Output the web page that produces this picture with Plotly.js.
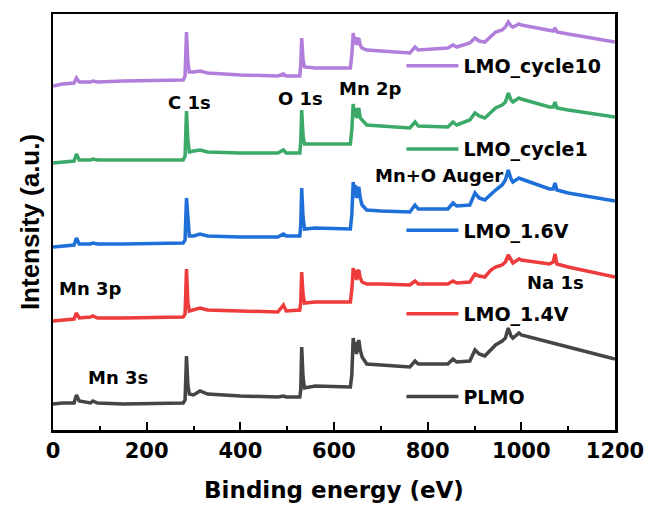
<!DOCTYPE html>
<html>
<head>
<meta charset="utf-8">
<script src="https://cdn.plot.ly/plotly-3.0.1.min.js"></script>
<style>html,body{margin:0;padding:0;background:#fff;}#chart{width:649px;height:508px;}</style>
</head>
<body>
<div id="chart"></div>
<script>
// Binding energy grid (eV)
const energy = [0, 20, 45, 50, 56, 80, 85, 95, 150,
  278, 282, 285, 288, 291, 300, 314, 330,
  400, 480, 492, 498,
  527, 529, 531, 534, 537,
  560, 635, 638,
  641, 643, 645, 648, 650, 653, 656,
  660, 670, 700,
  762, 773, 780,
  843, 854, 862,
  890, 901, 910, 922,
  935, 945, 959, 966,
  972, 978, 982, 995, 1000,
  1060, 1068, 1072, 1076,
  1100, 1200];

// Intensities (a.u., stacked offsets included)
const plmo = [26, 27, 27, 35, 29, 27, 29, 27, 26,
  27, 30, 74, 45, 36, 35, 39, 36,
  34, 33, 34, 33,
  33, 40, 83, 52, 42,
  44, 43, 55,
  92, 80, 88, 76, 85, 90, 80,
  73, 66, 65,
  63, 69, 66,
  66, 71, 68,
  69, 80, 76, 74,
  80, 85, 89, 92,
  102, 94, 92, 97, 95,
  88, 87, 87, 86,
  83, 71];

const lmo14 = [109, 110, 111, 117, 112, 113, 114, 112, 112,
  113, 116, 161, 128, 119, 120, 122, 120,
  119, 118, 125, 119,
  120, 128, 158, 135, 127,
  128, 128, 140,
  162, 152, 160, 150, 158, 160, 152,
  148, 146, 146,
  145, 149, 146,
  146, 149, 147,
  148, 156, 154, 153,
  160, 163, 165, 168,
  175, 169, 167, 171, 170,
  166, 168, 176, 166,
  163, 153];

const lmo16 = [183, 184, 185, 192, 186, 186, 187, 186, 186,
  187, 190, 232, 205, 194, 194, 196, 194,
  193, 193, 196, 194,
  194, 205, 242, 212, 201,
  202, 201, 215,
  248, 235, 245, 232, 240, 243, 232,
  225, 220, 219,
  218, 225, 221,
  221, 227, 224,
  225, 237, 232, 230,
  236, 240, 245, 250,
  260, 251, 248, 252, 251,
  241, 241, 247, 240,
  237, 229];

const cycle1 = [267, 268, 269, 276, 270, 270, 271, 270, 270,
  270, 274, 319, 290, 278, 279, 280, 278,
  277, 277, 280, 277,
  277, 288, 320, 294, 286,
  286, 286, 300,
  326, 315, 322, 312, 318, 322, 312,
  310, 305, 304,
  302, 308, 304,
  303, 308, 305,
  310, 317, 314, 312,
  318, 322, 325, 328,
  337, 330, 328, 332, 331,
  323, 323, 328, 322,
  320, 313];

const cycle10 = [344, 346, 347, 352, 348, 348, 349, 348, 349,
  350, 354, 398, 368, 358, 358, 359, 357,
  355, 354, 356, 354,
  354, 365, 392, 370, 363,
  362, 362, 375,
  397, 388, 393, 385, 390, 392, 385,
  382, 380, 379,
  377, 383, 380,
  382, 385, 383,
  387, 392, 389, 388,
  394, 398, 400, 403,
  408, 404, 403, 406, 405,
  399, 399, 402, 398,
  396, 388];

const seriesNames = ['PLMO', 'LMO_1.4V', 'LMO_1.6V', 'LMO_cycle1', 'LMO_cycle10'];
const seriesColors = ['#454545', '#EE3B3B', '#1F6FD8', '#3BAA68', '#B27EDC'];
const seriesValues = [plmo, lmo14, lmo16, cycle1, cycle10];

// Peak labels
const peakLabels = ['C 1s', 'O 1s', 'Mn 2p', 'Mn+O Auger', 'Na 1s', 'Mn 3p', 'Mn 3s'];
const peakLabelX = [291, 528, 677, 824, 1072, 79, 138];
const peakLabelY = [328, 332, 342, 255, 148, 142, 53];

const xTicks = [0, 200, 400, 600, 800, 1000, 1200];

const legendIds = ['legend', 'legend2', 'legend3', 'legend4', 'legend5'];
const legendY = [0.08, 0.279, 0.48, 0.675, 0.875];

const boldFont = (size, fam) => ({family: fam || 'DejaVu Sans', size: size, color: '#000', weight: 'bold'});

const traces = seriesValues.map((vals, i) => ({
  x: energy, y: vals, type: 'scatter', mode: 'lines',
  name: seriesNames[i],
  line: {color: seriesColors[i], width: 3.5},
  legend: legendIds[i]
}));

const layout = {
  width: 649, height: 508,
  margin: {l: 53, r: 34, t: 14, b: 78},
  paper_bgcolor: '#fff', plot_bgcolor: '#fff',
  showlegend: true,
  xaxis: {
    range: [0, 1200], tickvals: xTicks, ticktext: xTicks.map(String),
    ticks: 'inside', ticklen: 8, tickwidth: 2, tickcolor: '#000',
    minor: {dtick: 100, tick0: 0, ticks: 'inside', ticklen: 4, tickwidth: 2, tickcolor: '#000'},
    showline: true, linewidth: 2.5, linecolor: '#000', mirror: true,
    showgrid: false, zeroline: false,
    tickfont: boldFont(21),
    title: {text: 'Binding energy (eV)', font: boldFont(23), standoff: 20}
  },
  yaxis: {
    range: [0, 416], showticklabels: false, ticks: '',
    showline: true, linewidth: 2.5, linecolor: '#000', mirror: true,
    showgrid: false, zeroline: false,
    title: {text: 'Intensity (a.u.)', font: boldFont(26, 'Liberation Sans, Arial'), standoff: 4}
  },
  annotations: peakLabels.map((t, i) => ({
    x: peakLabelX[i], y: peakLabelY[i], xref: 'x', yref: 'y',
    text: t, showarrow: false, font: boldFont(18), xanchor: 'center', yanchor: 'middle'
  }))
};

legendIds.forEach((id, i) => {
  layout[id] = {
    x: 0.62, y: legendY[i], xanchor: 'left', yanchor: 'middle',
    bgcolor: 'rgba(0,0,0,0)', borderwidth: 0, itemwidth: 52,
    font: boldFont(19)
  };
});

Plotly.newPlot('chart', traces, layout, {displayModeBar: false, staticPlot: true});
</script>
</body>
</html>
